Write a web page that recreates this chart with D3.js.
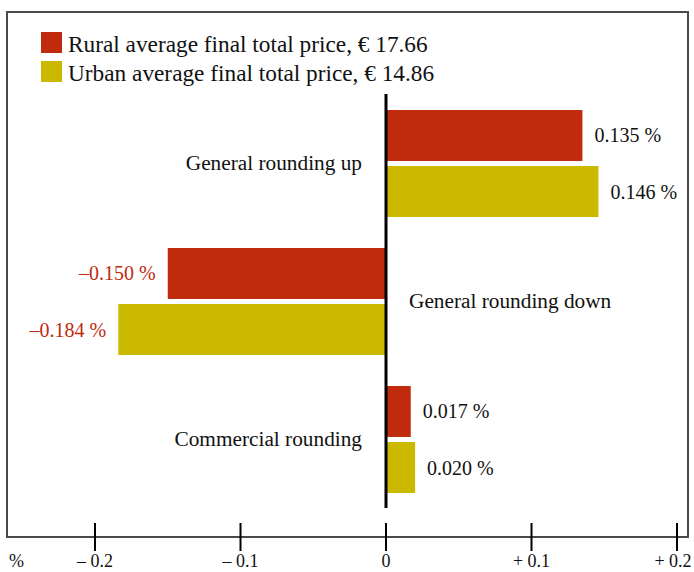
<!DOCTYPE html>
<html>
<head>
<meta charset="utf-8">
<script src="https://cdn.jsdelivr.net/npm/d3@7"></script>
<style>
  body { margin: 0; background: #fff; }
  text { font-family: "Liberation Serif", "DejaVu Serif", serif; }
</style>
</head>
<body>
<script>
// data
var categories = ["General rounding up", "General rounding down", "Commercial rounding"];
var seriesNames = ["Rural average final total price, € 17.66", "Urban average final total price, € 14.86"];
var seriesKeys = ["rural", "urban"];
var ruralValues = [0.135, -0.150, 0.017];
var urbanValues = [0.146, -0.184, 0.020];
var tickValues = [-0.2, -0.1, 0, 0.1, 0.2];
var tickLabels = ["\u2013 0.2", "\u2013 0.1", "0", "+ 0.1", "+ 0.2"];
var colors = ["#c02a0d", "#cbb900"];

window.onload = function() {
    drawChart();
};

function drawChart() {
    const width = 694;
    const height = 572;

    // build rows from the arrays
    var rows = categories.map(function(c, i) {
        return { category: c, values: [
            { key: "rural", value: ruralValues[i] },
            { key: "urban", value: urbanValues[i] }
        ]};
    });

    var svg = d3.select("body")
                .append("svg")
                .attr("width", width)
                .attr("height", height);

    // scales
    var x = d3.scaleLinear()
              .domain([-0.2, 0.2])
              .range([95, 677]);

    var y0 = d3.scaleBand()
               .domain(categories)
               .range([94, 508])
               .padding(0);

    var y1 = d3.scaleBand()
               .domain(seriesKeys)
               .range([16, 123])
               .paddingInner(0.09)
               .paddingOuter(0);

    var color = d3.scaleOrdinal().domain(seriesKeys).range(colors);

    // frame
    svg.append("rect")
       .attr("x", 7)
       .attr("y", 12)
       .attr("width", 681)
       .attr("height", 525)
       .attr("fill", "none")
       .attr("stroke", "#4a4a4a")
       .attr("stroke-width", 2);

    // legend
    var legend = svg.selectAll(".legend")
                    .data(seriesNames)
                    .enter()
                    .append("g")
                    .attr("class", "legend")
                    .attr("transform", function(d, i) { return "translate(41," + (32 + i * 29) + ")"; });

    legend.append("rect")
          .attr("width", 21)
          .attr("height", 21)
          .attr("fill", function(d, i) { return colors[i]; });

    legend.append("text")
          .attr("x", 27)
          .attr("y", 20)
          .attr("font-size", 23.3)
          .attr("fill", "#111")
          .text(function(d) { return d; });

    // bars
    var groups = svg.selectAll(".group")
                    .data(rows)
                    .enter()
                    .append("g")
                    .attr("class", "group")
                    .attr("transform", function(d) { return "translate(0," + y0(d.category) + ")"; });

    groups.selectAll("rect")
          .data(function(d) { return d.values; })
          .enter()
          .append("rect")
          .attr("x", function(d) { return x(Math.min(0, d.value)); })
          .attr("y", function(d) { return y1(d.key); })
          .attr("width", function(d) { return Math.abs(x(d.value) - x(0)); })
          .attr("height", y1.bandwidth())
          .attr("fill", function(d) { return color(d.key); });

    // value labels
    groups.selectAll(".val")
          .data(function(d) { return d.values; })
          .enter()
          .append("text")
          .attr("class", "val")
          .attr("x", function(d) { return d.value < 0 ? x(d.value) - 12 : x(d.value) + 12; })
          .attr("y", function(d) { return y1(d.key) + y1.bandwidth() / 2; })
          .attr("dy", "0.35em")
          .attr("text-anchor", function(d) { return d.value < 0 ? "end" : "start"; })
          .attr("font-size", 20)
          .attr("fill", function(d) { return d.value < 0 ? colors[0] : "#111"; })
          .text(function(d) {
              var s = Math.abs(d.value).toFixed(3) + " %";
              return d.value < 0 ? "\u2013" + s : s;
          });

    // category labels, on the opposite side of the bars
    groups.append("text")
          .attr("x", function(d) { return d.values[0].value < 0 ? x(0) + 23 : x(0) - 24; })
          .attr("y", y0.bandwidth() / 2)
          .attr("dy", "0.35em")
          .attr("text-anchor", function(d) { return d.values[0].value < 0 ? "start" : "end"; })
          .attr("font-size", 21.3)
          .attr("fill", "#111")
          .text(function(d) { return d.category; });

    // zero line
    svg.append("line")
       .attr("x1", x(0))
       .attr("x2", x(0))
       .attr("y1", 94)
       .attr("y2", 508)
       .attr("stroke", "#000")
       .attr("stroke-width", 3);

    // axis ticks + labels
    var ticks = svg.selectAll(".tick")
                   .data(tickValues)
                   .enter()
                   .append("g")
                   .attr("class", "tick")
                   .attr("transform", function(d) { return "translate(" + x(d) + ",0)"; });

    ticks.append("line")
         .attr("y1", 523)
         .attr("y2", 551)
         .attr("stroke", "#000")
         .attr("stroke-width", 2);

    // last label is pulled in so it stays inside the page
    ticks.append("text")
         .attr("x", function(d, i) { return i == tickValues.length - 1 ? -4 : 0; })
         .attr("y", 567)
         .attr("text-anchor", "middle")
         .attr("font-size", 18)
         .attr("fill", "#111")
         .text(function(d, i) { return tickLabels[i]; });

    svg.append("text")
       .attr("x", 9)
       .attr("y", 567)
       .attr("font-size", 18)
       .attr("fill", "#111")
       .text("%");
}
</script>
</body>
</html>
